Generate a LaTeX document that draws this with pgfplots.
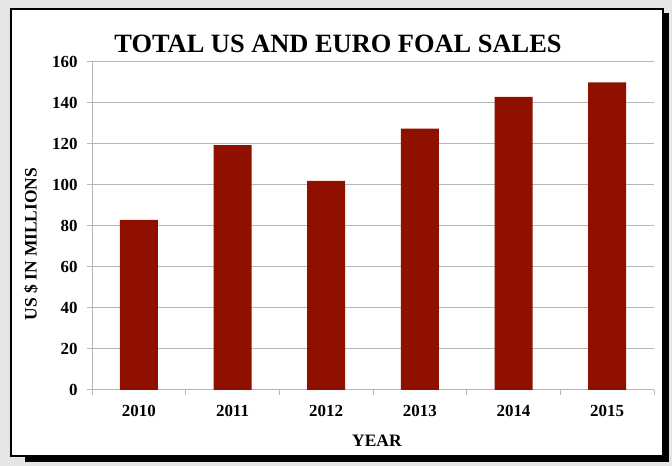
\documentclass[border=0pt]{standalone}
\usepackage{fontspec}
\setmainfont{Liberation Serif}
\usepackage{pgfplots}
\pgfplotsset{compat=1.18}
\definecolor{barred}{RGB}{144,16,0}
\definecolor{gridgray}{RGB}{182,182,182}
\definecolor{bggray}{RGB}{229,229,229}

\begin{document}
\begin{tikzpicture}[x=1bp,y=1bp]
% page background, drop shadow and white card
\fill[bggray] (0,0) rectangle (672,466);
\fill[black] (25,4) rectangle (669,453);
\filldraw[fill=white,draw=black,line width=2.5bp] (11,10) rectangle (663,457);
\node[anchor=base,font=\fontsize{26.5}{30}\selectfont\bfseries] at (338,413) {TOTAL US AND EURO FOAL SALES};

\begin{axis}[
    at={(92bp,76bp)}, anchor=south west,
    scale only axis, width=562bp, height=328bp,
    ymin=0, ymax=160, ytick={0,20,...,160},
    xmin=-0.5, xmax=5.5,
    xtick={0,...,5},
    xticklabels={2010,2011,2012,2013,2014,2015},
    minor xtick={-0.5,0.5,...,5.5},
    major x tick style={draw=none},
    axis lines*=left,
    axis line style={gridgray, line width=1bp},
    ymajorgrids,
    grid style={gridgray, line width=1bp},
    tick align=outside,
    major tick length=5bp, minor tick length=5bp,
    tick style={gridgray, line width=1bp},
    /pgf/number format/assume math mode=true,
    ticklabel style={font=\fontsize{17}{19}\selectfont\bfseries},
    xticklabel style={yshift=-7bp},
    yticklabel style={xshift=-6bp},
    xlabel={YEAR}, ylabel={US \$ IN MILLIONS},
    label style={font=\fontsize{17.5}{20}\selectfont\bfseries},
    xlabel style={at={(axis description cs:0.507,-0.171)}, anchor=base},
    ylabel style={at={(axis description cs:-0.1085,0.445)}, anchor=center, rotate=0},
]
\addplot[ybar, fill=barred, draw=none, bar width=38bp]
    coordinates {(0,83) (1,119.5) (2,102) (3,127.5) (4,143) (5,150)};
\end{axis}
\end{tikzpicture}
\end{document}
